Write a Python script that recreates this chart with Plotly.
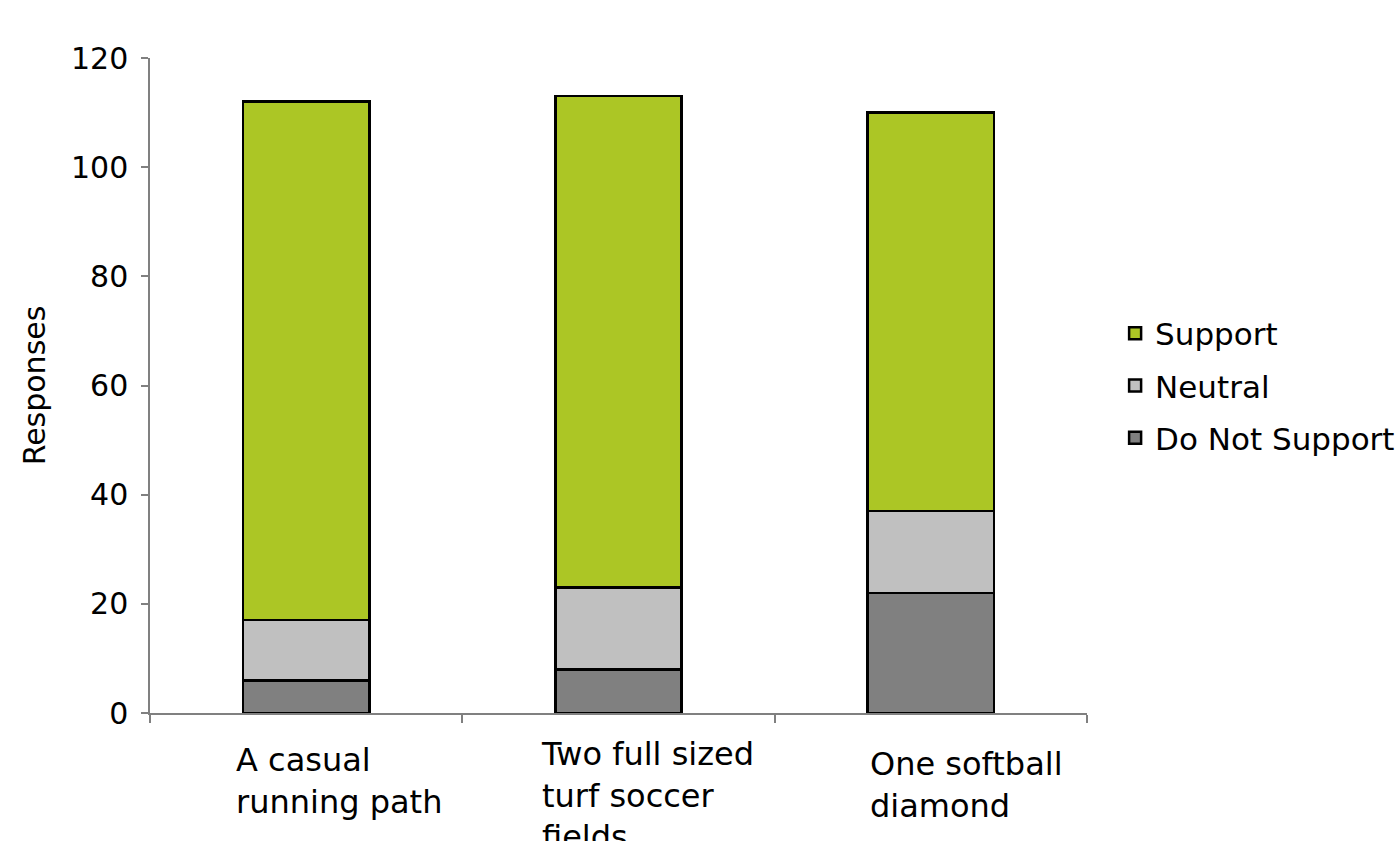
import plotly.graph_objects as go

categories = ["A casual running path", "Two full sized turf soccer fields", "One softball diamond"]
label_lines = ["A casual<br>running path", "Two full sized<br>turf soccer<br>fields", "One softball<br>diamond"]
do_not_support = [6, 8, 22]
neutral = [11, 15, 15]
support = [95, 90, 73]
y_ticks = [0, 20, 40, 60, 80, 100, 120]

FONT = "DejaVu Sans"
xpos = list(range(len(categories)))

fig = go.Figure()
for rank, (name, vals, color) in enumerate([("Do Not Support", do_not_support, "#808080"),
                                            ("Neutral", neutral, "#C0C0C0"),
                                            ("Support", support, "#ACC625")]):
    fig.add_trace(go.Bar(x=xpos, y=vals, name=name, width=0.404, legendgroup=name,
                         legendrank=1000 - rank,
                         marker=dict(color=color, line=dict(color="black", width=2.5))))

# category labels (left-aligned text blocks, as in the original)
label_x = [-0.231, 0.746, 1.799]
label_y = [-0.040, -0.030, -0.046]
for lx, ly, txt in zip(label_x, label_y, label_lines):
    fig.add_annotation(x=lx, y=ly, xref="x", yref="paper", text=txt, showarrow=False,
                       xanchor="left", yanchor="top", align="left",
                       font=dict(family=FONT, size=32, color="black"))

fig.update_layout(
    barmode="stack",
    width=1399, height=841,
    margin=dict(l=150, r=312, t=58, b=128, autoexpand=False),
    paper_bgcolor="white", plot_bgcolor="white",
    font=dict(family=FONT, color="black"),
    showlegend=True,
    legend=dict(traceorder="grouped", tracegroupgap=9, x=1.03, y=0.5,
                xanchor="left", yanchor="middle",
                font=dict(family=FONT, size=31, color="black"), bgcolor="rgba(0,0,0,0)"),
    xaxis=dict(range=[-0.5, 2.5], tickvals=[-0.5, 0.5, 1.5, 2.5], ticktext=["", "", "", ""],
               ticks="outside", ticklen=8, tickcolor="#808080", tickwidth=1.5,
               showline=True, linecolor="#808080", linewidth=1.5, showgrid=False, zeroline=False),
    yaxis=dict(range=[0, 120], tickvals=y_ticks, ticks="outside", ticklen=7,
               tickcolor="#808080", tickwidth=1.5, showline=True, linecolor="#808080", linewidth=1.5,
               showgrid=False, zeroline=False, ticklabelstandoff=7,
               tickfont=dict(family=FONT, size=30, color="black"),
               title=dict(text="Responses", font=dict(family=FONT, size=30, color="black"), standoff=16)),
)

fig.write_html("out.html")
